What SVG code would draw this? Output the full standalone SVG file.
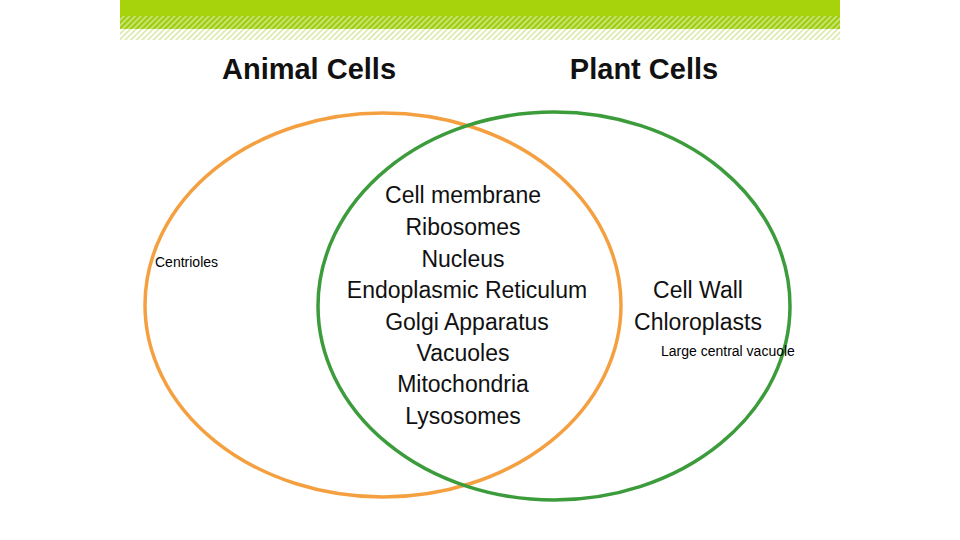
<svg xmlns="http://www.w3.org/2000/svg" width="960" height="540" viewBox="0 0 960 540">
<defs>
<pattern id="h1" width="4" height="4" patternUnits="userSpaceOnUse" patternTransform="rotate(45)"><rect width="4" height="4" fill="#c8e36a"/><rect width="2" height="4" fill="#9ccc10"/></pattern>
<pattern id="h2" width="4" height="4" patternUnits="userSpaceOnUse" patternTransform="rotate(45)"><rect width="4" height="4" fill="#ffffff"/><rect width="1.5" height="4" fill="#d6e6a0"/></pattern>
</defs>
<style>
.t{font-family:"Liberation Sans Narrow","Liberation Sans",sans-serif;font-weight:bold;fill:#111;text-anchor:middle}
.m{font-family:"Liberation Sans Narrow","Liberation Sans",sans-serif;fill:#111;text-anchor:middle;font-size:23px}
.s{font-family:"Liberation Sans","DejaVu Sans",sans-serif;font-size:14px;fill:#000}
</style>
<rect x="0" y="0" width="960" height="540" fill="#fff"/>
<rect x="120" y="0" width="720" height="16" fill="#a6d30c"/>
<rect x="120" y="16" width="720" height="13" fill="url(#h1)"/>
<rect x="120" y="29" width="720" height="11" fill="url(#h2)"/>
<text class="t" x="309" y="79" font-size="29">Animal Cells</text>
<text class="t" x="644" y="79" font-size="29">Plant Cells</text>
<g id="animal"><ellipse cx="383" cy="305" rx="238" ry="192" fill="none" stroke="#f4a040" stroke-width="3.5"/></g>
<g id="plant"><ellipse cx="554" cy="306" rx="236" ry="194" fill="none" stroke="#3c9c3c" stroke-width="3.5"/></g>
<g id="common">
<text class="m" x="463" y="203">Cell membrane</text>
<text class="m" x="463" y="235">Ribosomes</text>
<text class="m" x="463" y="267">Nucleus</text>
<text class="m" x="467" y="298">Endoplasmic Reticulum</text>
<text class="m" x="467" y="330">Golgi Apparatus</text>
<text class="m" x="463" y="361">Vacuoles</text>
<text class="m" x="463" y="392">Mitochondria</text>
<text class="m" x="463" y="424">Lysosomes</text>
</g>
<g id="plantonly">
<text class="m" x="698" y="298">Cell Wall</text>
<text class="m" x="698" y="330">Chloroplasts</text>
<text class="s" x="661" y="356">Large central vacuole</text>
</g>
<g id="animalonly"><text class="s" x="155" y="267">Centrioles</text></g>
<g id="connectors"/>
</svg>
